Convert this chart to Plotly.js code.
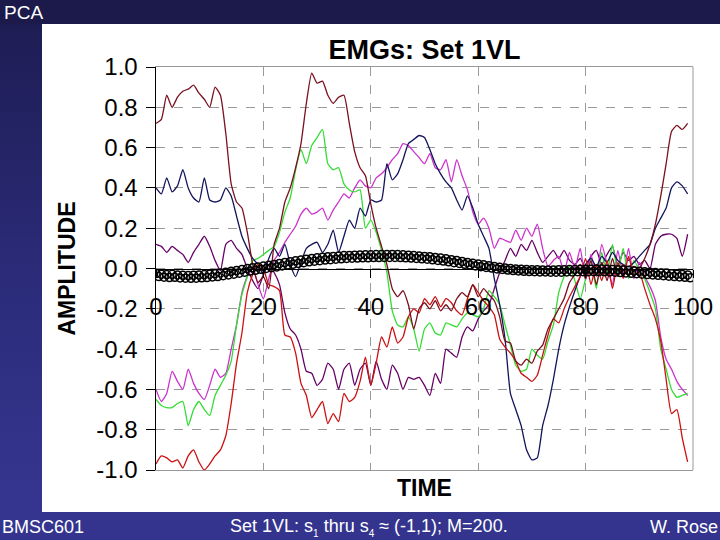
<!DOCTYPE html>
<html>
<head>
<meta charset="utf-8">
<script src="https://cdn.plot.ly/plotly-3.0.1.min.js"></script>
<style>
  html, body { margin:0; padding:0; width:720px; height:540px; overflow:hidden; }
  body { background: linear-gradient(to bottom, #1c1b4c 0%, #1f1e57 8%, #2c2c7c 55%, #35358f 92%, #34348f 100%); position:relative; font-family: Arial, "Liberation Sans", sans-serif; }
  #topbar { position:absolute; left:0; top:0; width:720px; height:24px; background:#1b1a4a; }
  #panel { position:absolute; left:42px; top:24px; width:678px; height:488px; background:#ffffff; }
  #chart { position:absolute; left:0; top:0; width:720px; height:540px; }
  .txt { position:absolute; color:#ffffff; white-space:nowrap; }
</style>
</head>
<body>
<div id="topbar"></div>
<div id="panel"></div>
<div id="chart"></div>
<div class="txt" style="left:4px; top:2px; font-size:19px;">PCA</div>
<div class="txt" style="left:2px; top:517px; font-size:18px;">BMSC601</div>
<div class="txt" style="left:230px; top:516px; font-size:18px;">Set 1VL: s<sub style="font-size:10px">1</sub> thru s<sub style="font-size:10px">4</sub> ≈ (-1,1); M=200.</div>
<div class="txt" style="right:2px; top:517px; font-size:18px;">W. Rose</div>
<script>
// ---- data ----
const time = Array.from({length: 100}, (_, i) => i);
const timeB = time.map(t => t + 0.5);

const maroon = [0.72,0.74,0.86,0.80,0.85,0.88,0.89,0.91,0.87,0.84,
  0.80,0.90,0.86,0.67,0.42,0.33,0.30,0.18,0.02,-0.07,
  -0.04,-0.10,0.12,0.20,0.33,0.40,0.50,0.62,0.82,0.97,
  0.92,0.93,0.86,0.82,0.85,0.86,0.72,0.58,0.50,0.46,
  0.32,0.20,0.11,0.02,-0.10,-0.14,-0.11,-0.18,-0.30,-0.20,
  -0.17,-0.20,-0.16,-0.21,-0.18,-0.21,-0.15,-0.12,-0.14,-0.08,
  -0.14,-0.10,-0.13,-0.16,-0.24,-0.36,-0.37,-0.46,-0.48,-0.45,
  -0.47,-0.41,-0.38,-0.30,-0.25,-0.20,-0.15,-0.07,-0.03,0.02,
  -0.05,0.04,-0.08,0.03,-0.06,0.05,-0.04,0.02,-0.03,0.01,
  0.00,0.05,0.12,0.22,0.36,0.52,0.68,0.71,0.69,0.72];

const red = [-0.97,-0.93,-0.94,-0.96,-0.95,-0.99,-0.93,-0.90,-0.96,-1.00,
  -0.97,-0.93,-0.90,-0.83,-0.67,-0.47,-0.32,-0.12,-0.03,0.02,
  0.00,-0.08,-0.09,-0.11,-0.33,-0.34,-0.42,-0.57,-0.63,-0.74,
  -0.70,-0.66,-0.77,-0.72,-0.76,-0.62,-0.66,-0.64,-0.56,-0.44,
  -0.58,-0.47,-0.34,-0.39,-0.29,-0.37,-0.34,-0.24,-0.20,-0.22,
  -0.15,-0.18,-0.14,-0.19,-0.15,-0.17,-0.21,-0.23,-0.15,-0.08,
  -0.12,-0.16,-0.19,-0.23,-0.35,-0.39,-0.42,-0.46,-0.52,-0.54,
  -0.56,-0.53,-0.43,-0.33,-0.25,-0.27,-0.20,-0.14,-0.09,-0.04,
  0.05,-0.08,0.02,-0.06,0.04,-0.10,0.03,-0.05,0.06,-0.03,
  -0.02,-0.10,-0.18,-0.25,-0.36,-0.55,-0.72,-0.70,-0.84,-0.96];

const navy = [0.40,0.37,0.45,0.38,0.41,0.49,0.40,0.35,0.33,0.45,
  0.34,0.33,0.34,0.40,0.36,0.26,0.16,0.10,0.05,0.02,
  -0.03,0.05,0.10,0.06,0.12,0.02,-0.04,0.03,0.10,0.12,
  0.13,0.08,0.12,0.19,0.08,0.16,0.24,0.20,0.30,0.26,
  0.34,0.33,0.34,0.52,0.44,0.47,0.54,0.62,0.64,0.66,
  0.65,0.59,0.52,0.47,0.43,0.40,0.34,0.29,0.36,0.30,
  0.22,0.16,0.10,-0.05,-0.18,-0.35,-0.62,-0.70,-0.78,-0.90,
  -0.95,-0.94,-0.78,-0.68,-0.55,-0.40,-0.28,-0.19,-0.11,-0.04,
  0.02,0.05,0.01,0.06,0.03,0.08,0.04,0.02,0.01,0.03,
  0.06,0.09,0.12,0.20,0.25,0.30,0.40,0.43,0.41,0.37];

const green = [-0.65,-0.68,-0.69,-0.69,-0.67,-0.66,-0.78,-0.70,-0.66,-0.70,
  -0.73,-0.63,-0.58,-0.53,-0.46,-0.28,-0.13,-0.04,0.04,0.05,
  0.07,0.09,0.11,0.18,0.28,0.35,0.49,0.59,0.52,0.61,
  0.65,0.69,0.52,0.49,0.50,0.42,0.39,0.38,0.39,0.20,
  0.24,0.18,0.09,-0.02,-0.21,-0.28,-0.29,-0.24,-0.30,-0.41,
  -0.30,-0.27,-0.32,-0.33,-0.27,-0.28,-0.29,-0.25,-0.22,-0.23,
  -0.24,-0.20,-0.11,-0.14,-0.18,-0.28,-0.38,-0.48,-0.51,-0.50,
  -0.40,-0.43,-0.45,-0.36,-0.28,-0.12,-0.04,0.01,-0.06,-0.15,
  -0.05,0.04,-0.10,0.08,-0.03,0.12,-0.02,0.10,-0.05,0.04,
  -0.01,-0.05,-0.12,-0.20,-0.40,-0.50,-0.60,-0.64,-0.63,-0.62];

const magenta = [-0.60,-0.66,-0.62,-0.51,-0.56,-0.60,-0.50,-0.57,-0.62,-0.65,
  -0.58,-0.50,-0.54,-0.52,-0.40,-0.28,-0.12,-0.04,0.00,-0.08,
  -0.15,-0.05,0.04,0.08,0.13,0.17,0.21,0.27,0.30,0.27,
  0.28,0.30,0.24,0.29,0.33,0.37,0.35,0.40,0.44,0.41,
  0.40,0.45,0.47,0.50,0.54,0.57,0.62,0.61,0.58,0.55,
  0.52,0.57,0.50,0.49,0.54,0.43,0.54,0.46,0.39,0.28,
  0.22,0.25,0.20,0.10,0.15,0.14,0.13,0.19,0.14,0.20,
  0.16,0.22,0.10,0.01,0.04,0.06,-0.02,0.08,0.00,0.10,
  -0.06,0.07,-0.04,0.12,0.02,-0.08,0.09,-0.03,0.10,-0.05,
  0.03,-0.04,-0.09,-0.16,-0.34,-0.45,-0.50,-0.56,-0.60,-0.63];

const purple = [0.12,0.11,0.08,0.11,0.09,0.07,0.03,0.08,0.12,0.16,
  0.11,0.04,-0.01,0.12,0.14,0.10,0.07,0.00,-0.06,-0.10,
  -0.03,0.02,-0.02,-0.08,-0.22,-0.30,-0.33,-0.40,-0.51,-0.52,
  -0.58,-0.55,-0.47,-0.50,-0.60,-0.50,-0.47,-0.58,-0.50,-0.47,
  -0.58,-0.46,-0.55,-0.60,-0.48,-0.52,-0.60,-0.54,-0.55,-0.54,
  -0.58,-0.63,-0.52,-0.57,-0.40,-0.42,-0.44,-0.34,-0.29,-0.31,
  -0.25,-0.21,-0.18,-0.10,-0.02,0.04,0.10,0.06,0.12,0.09,
  0.14,0.08,0.03,0.06,0.09,0.05,0.09,0.04,0.02,0.05,
  0.00,0.06,0.09,0.02,0.07,0.11,0.01,0.08,0.04,0.06,
  0.02,0.04,0.00,0.12,0.16,0.17,0.17,0.15,0.06,0.17];

const circlesA = [-0.025,-0.028,-0.030,-0.029,-0.032,-0.034,-0.035,-0.033,-0.032,-0.030,
  -0.028,-0.026,-0.022,-0.018,-0.014,-0.010,-0.005,0.000,0.004,0.008,
  0.012,0.016,0.020,0.025,0.030,0.034,0.038,0.042,0.046,0.050,
  0.053,0.056,0.058,0.060,0.062,0.064,0.065,0.066,0.067,0.068,
  0.068,0.069,0.069,0.070,0.070,0.069,0.068,0.066,0.064,0.062,
  0.060,0.058,0.055,0.052,0.048,0.044,0.040,0.035,0.030,0.026,
  0.022,0.018,0.014,0.010,0.006,0.003,0.000,-0.002,-0.004,-0.005,
  -0.006,-0.006,-0.007,-0.007,-0.007,-0.006,-0.006,-0.005,-0.005,-0.004,
  -0.004,-0.004,-0.003,-0.003,-0.004,-0.005,-0.006,-0.008,-0.010,-0.012,
  -0.014,-0.016,-0.018,-0.020,-0.022,-0.024,-0.026,-0.028,-0.030,-0.032];

const circlesB = [-0.040,-0.043,-0.045,-0.044,-0.047,-0.048,-0.049,-0.048,-0.046,-0.045,
  -0.042,-0.040,-0.036,-0.032,-0.028,-0.023,-0.018,-0.013,-0.009,-0.004,
  0.000,0.004,0.008,0.013,0.017,0.021,0.025,0.029,0.033,0.036,
  0.039,0.042,0.044,0.046,0.048,0.050,0.051,0.052,0.053,0.053,
  0.054,0.054,0.055,0.055,0.055,0.054,0.053,0.052,0.050,0.048,
  0.046,0.043,0.040,0.037,0.033,0.029,0.025,0.021,0.017,0.013,
  0.009,0.005,0.002,-0.002,-0.005,-0.008,-0.010,-0.012,-0.014,-0.015,
  -0.016,-0.017,-0.017,-0.018,-0.018,-0.018,-0.017,-0.017,-0.016,-0.016,
  -0.016,-0.015,-0.015,-0.016,-0.017,-0.018,-0.020,-0.022,-0.024,-0.026,
  -0.028,-0.030,-0.032,-0.034,-0.036,-0.038,-0.040,-0.042,-0.044,-0.046];

const xTickVals = [0, 20, 40, 60, 80, 100];
const xTickText = ['0', '20', '40', '60', '80', '100'];
const yTickVals = [1.0, 0.8, 0.6, 0.4, 0.2, 0.0, -0.2, -0.4, -0.6, -0.8, -1.0];
const yTickText = ['1.0', '0.8', '0.6', '0.4', '0.2', '0.0', '-0.2', '-0.4', '-0.6', '-0.8', '-1.0'];

// ---- chart ----
const FONT = 'Arial, "Liberation Sans", sans-serif';
function lineTrace(y, color) {
  return { x: time, y: y, type: 'scatter', mode: 'lines',
    line: { color: color, width: 1.3, shape: 'spline', smoothing: 0.5 },
    hoverinfo: 'skip', showlegend: false };
}
function circleTrace(x, y, axis) {
  return { x: x, y: y, type: 'scatter', mode: 'markers', xaxis: axis,
    marker: { symbol: 'circle-open', size: 8, color: '#000000', line: { width: 1.5, color: '#000000' } },
    hoverinfo: 'skip', showlegend: false };
}

const traces = [
  lineTrace(purple, '#660066'),
  lineTrace(magenta, '#cc33cc'),
  lineTrace(green, '#33dd33'),
  lineTrace(navy, '#14145c'),
  lineTrace(red, '#cc1111'),
  lineTrace(maroon, '#7a1020'),
  circleTrace(time, circlesA, 'x'),
  circleTrace(timeB, circlesB, 'x2')
];

const layout = {
  width: 720, height: 540,
  margin: { l: 156, r: 27, t: 67, b: 70, pad: 0 },
  paper_bgcolor: 'rgba(0,0,0,0)',
  plot_bgcolor: '#ffffff',
  font: { family: FONT, color: '#000000' },
  showlegend: false,
  title: { text: '<b>EMGs: Set 1VL</b>', font: { size: 27, family: FONT, color: '#000000' },
    x: 0.5, xref: 'paper', xanchor: 'center', y: 1 - 50 / 540, yref: 'container', yanchor: 'middle' },
  xaxis: {
    range: [0, 100], tickvals: [20, 40, 60, 80], showticklabels: false, ticks: '',
    showgrid: true, gridcolor: '#9a9a9a', griddash: 'dash', gridwidth: 1,
    showline: true, linecolor: '#999999', linewidth: 1, mirror: true, zeroline: false,
    title: { text: '<b>TIME</b>', font: { size: 23, family: FONT, color: '#000000' }, standoff: 9 }
  },
  xaxis2: {
    overlaying: 'x', anchor: 'free', position: 0.5, side: 'bottom', range: [0, 100],
    tickvals: xTickVals, ticktext: xTickText, ticks: 'outside', ticklen: 8, tickcolor: '#000000', tickwidth: 1,
    ticklabelstandoff: 8, tickfont: { size: 24, family: FONT, color: '#000000' },
    showline: true, linecolor: '#000000', linewidth: 1.5, showgrid: false, zeroline: false
  },
  yaxis: {
    range: [-1, 1], tickvals: yTickVals, ticktext: yTickText,
    ticks: 'outside', ticklen: 9, tickcolor: '#000000', tickwidth: 1,
    ticklabelstandoff: 3, tickfont: { size: 24, family: FONT, color: '#000000' },
    showgrid: true, gridcolor: '#9a9a9a', griddash: 'dash', gridwidth: 1,
    showline: true, linecolor: '#000000', linewidth: 1.5, zeroline: false,
    title: { text: '<b>AMPLITUDE</b>', font: { size: 23, family: FONT, color: '#000000' }, standoff: 14 }
  },
  shapes: [
    { type: 'line', xref: 'paper', yref: 'paper', x0: 1, x1: 1, y0: 0, y1: 1,
      line: { color: '#999999', width: 1 }, layer: 'below' }
  ]
};

Plotly.newPlot('chart', traces, layout, { staticPlot: true, displayModeBar: false });
</script>
</body>
</html>
